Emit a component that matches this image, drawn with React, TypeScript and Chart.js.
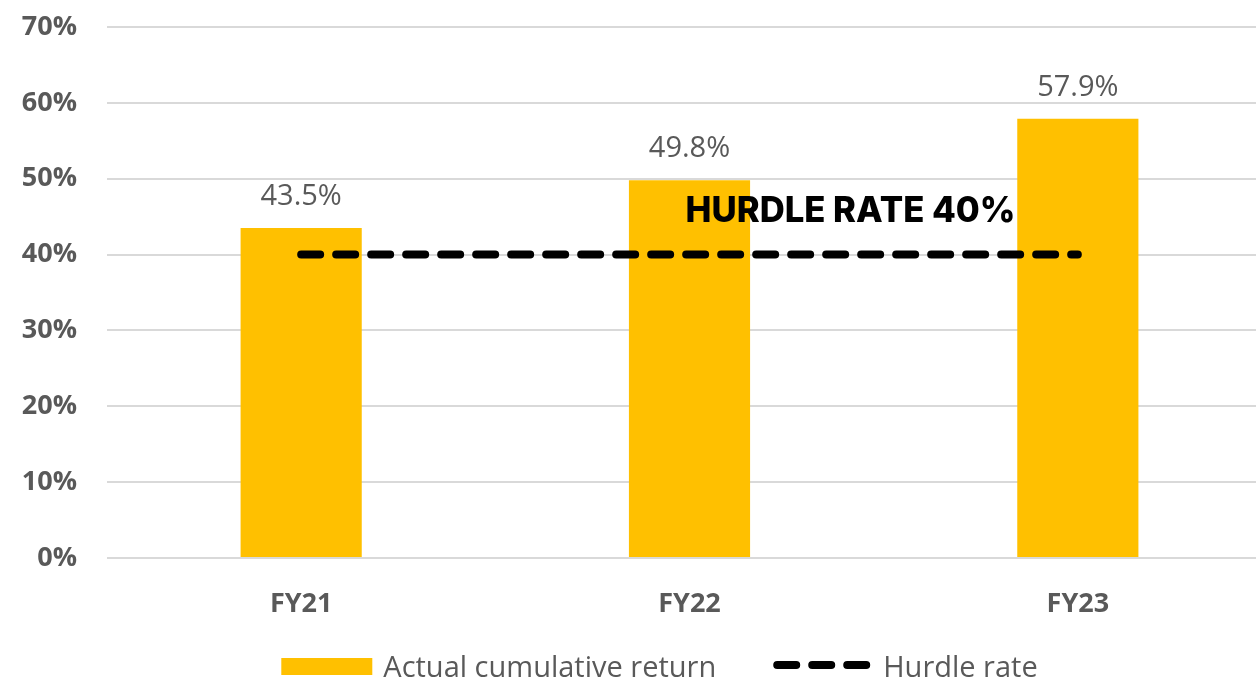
import React, { useEffect, useRef } from "react";
import { Chart, registerables } from "chart.js";

Chart.register(...registerables);

const categories = ["FY21", "FY22", "FY23"];
const actualReturn = [43.5, 49.8, 57.9];
const hurdleRate = [40, 40, 40];
const yTicks = [0, 10, 20, 30, 40, 50, 60, 70];
const hurdleLabel = "HURDLE RATE 40%";
const legendLabels = ["Actual cumulative return", "Hurdle rate"];

const GOLD = "#FFC000";
const GRAY = "#595959";
const FONT = "'Open Sans', 'Noto Sans', sans-serif";

const overlayPlugin = {
  id: "overlay",
  afterDatasetsDraw(chart: any) {
    const ctx = chart.ctx;
    const meta = chart.getDatasetMeta(0);
    ctx.save();
    ctx.fillStyle = GRAY;
    ctx.font = `400 29px ${FONT}`;
    ctx.textAlign = "center";
    ctx.textBaseline = "alphabetic";
    meta.data.forEach((el: any, i: number) => {
      ctx.fillText(actualReturn[i].toFixed(1) + "%", el.x, el.y - 23);
    });
    // hurdle annotation
    const xs = chart.scales.x;
    const ys = chart.scales.y;
    ctx.fillStyle = "#000";
    ctx.font = `800 35px Inter, ${FONT}`;
    ctx.textAlign = "left";
    ctx.fillText(hurdleLabel, xs.getPixelForValue(1) - 4, ys.getPixelForValue(hurdleRate[1] + 4.3), 330);
    ctx.restore();
  },
  afterDraw(chart: any) {
    const ctx = chart.ctx;
    ctx.save();
    ctx.font = `400 29px ${FONT}`;
    const boxW = 91;
    const gap1 = 11;
    const itemGap = 57;
    const lineW = 97;
    const w0 = ctx.measureText(legendLabels[0]).width;
    const w1 = ctx.measureText(legendLabels[1]).width;
    const total = boxW + gap1 + w0 + itemGap + lineW + 13 + w1;
    const cx = (chart.chartArea.left + chart.chartArea.right) / 2 - 30;
    let x = cx - total / 2;
    const cy = 666;
    ctx.fillStyle = GOLD;
    ctx.fillRect(x, cy - 8, boxW, 17);
    x += boxW + gap1;
    ctx.fillStyle = GRAY;
    ctx.textBaseline = "alphabetic";
    ctx.textAlign = "left";
    ctx.fillText(legendLabels[0], x, cy + 11);
    x += w0 + itemGap;
    ctx.strokeStyle = "#000";
    ctx.lineWidth = 8;
    ctx.lineCap = "round";
    ctx.setLineDash([19, 16]);
    ctx.beginPath();
    ctx.moveTo(x + 4, cy - 1);
    ctx.lineTo(x + lineW - 4, cy - 1);
    ctx.stroke();
    ctx.setLineDash([]);
    x += lineW + 13;
    ctx.fillText(legendLabels[1], x, cy + 11);
    ctx.restore();
  },
};

export default function App() {
  const ref = useRef<HTMLCanvasElement>(null);
  useEffect(() => {
    if (!ref.current) return;
    const chart = new Chart(ref.current, {
      type: "bar",
      data: {
        labels: categories,
        datasets: [
          {
            type: "bar",
            label: legendLabels[0],
            data: actualReturn,
            backgroundColor: GOLD,
            borderWidth: 0,
            barPercentage: 0.312,
            categoryPercentage: 1,
            order: 1,
          },
          {
            type: "line",
            label: legendLabels[1],
            data: hurdleRate,
            borderColor: "#000",
            borderWidth: 8,
            borderDash: [19, 16],
            borderCapStyle: "round",
            pointRadius: 0,
            fill: false,
            order: 0,
          } as any,
        ],
      },
      options: {
        responsive: false,
        devicePixelRatio: 1,
        animation: false,
        layout: { padding: { top: 27, right: 18, bottom: 0, left: 0 } },
        plugins: {
          legend: { display: false },
          tooltip: { enabled: false },
        },
        scales: {
          x: {
            grid: { display: false, drawTicks: false },
            border: { display: false },
            ticks: {
              color: GRAY,
              font: { family: FONT, size: 27, weight: "bold" },
              padding: 30,
            },
            afterFit(scale: any) {
              scale.height = 123;
              scale.paddingLeft = 0;
              scale.paddingRight = 0;
            },
          },
          y: {
            min: 0,
            max: 70,
            grid: { color: "#D9D9D9", lineWidth: 2, drawTicks: false },
            border: { display: false },
            afterBuildTicks(scale: any) {
              scale.ticks = yTicks.map((v) => ({ value: v }));
            },
            ticks: {
              color: GRAY,
              font: { family: FONT, size: 27, weight: "bold" },
              padding: 30,
              callback: (v: any) => v + "%",
            },
            afterFit(scale: any) {
              scale.width = 107;
              scale.paddingTop = 0;
              scale.paddingBottom = 0;
            },
          },
        },
      },
      plugins: [overlayPlugin],
    });
    return () => chart.destroy();
  }, []);
  return (
    <div
      style={{
        position: "fixed",
        left: 0,
        top: 0,
        width: 1256,
        height: 681,
        overflow: "hidden",
        background: "#fff",
      }}
    >
      <canvas ref={ref} width={1290} height={681} style={{ display: "block" }} />
    </div>
  );
}
